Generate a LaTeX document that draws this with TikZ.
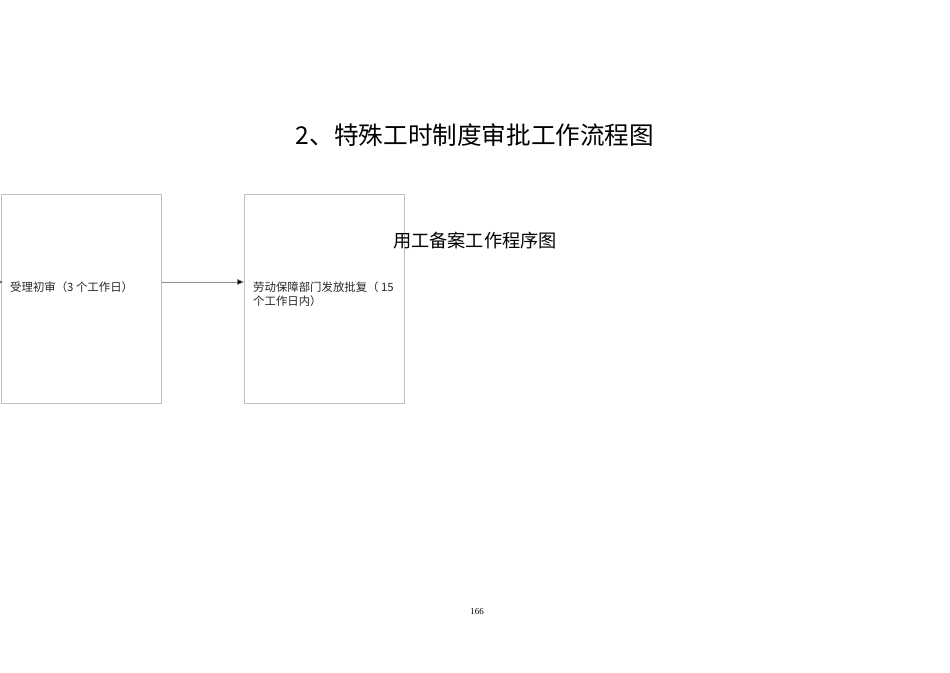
\documentclass[tikz,border=0pt]{standalone}
\usepackage{fontspec}
\setmainfont{Liberation Serif}
\newfontfamily\cjk{Noto Sans CJK SC}
\usetikzlibrary{arrows.meta}
\tikzset{
  box/.style={draw=black!25, line width=0.8pt, minimum width=160pt, minimum height=209pt, anchor=north west, inner sep=0pt},
  boxtext/.style={anchor=base west, inner sep=0pt, align=left, font=\cjk\fontsize{11.4}{14}\selectfont, text=black!85},
  conn/.style={draw=black!45, line width=0.6pt, -{Triangle[length=7pt,width=6pt,fill=black]}}
}
\begin{document}
\begin{tikzpicture}[x=1pt,y=-1pt]
\useasboundingbox (0,0) rectangle (950,672);
\node[anchor=base, inner sep=0pt, font=\cjk\fontsize{24.6}{27}\selectfont] (title) at (475,144) {2、特殊工时制度审批工作流程图};
\node[box] (b1) at (1,194) {};
\node[box] (b2) at (244,194) {};
\node[anchor=base, inner sep=0pt, font=\cjk\fontsize{18.2}{20}\selectfont] (sub) at (475,247) {用工备案工作程序图};
\node[boxtext] (t1) at (10,291) {受理初审（3 个工作日）};
\node[boxtext] (t2) at (253,305) {劳动保障部门发放批复（ 15\\个工作日内）};
\coordinate (in) at (-12,282);
\draw[conn] (b1.east |- in) -- (b2.west |- in);
\draw[conn] (in) -- ([xshift=2pt]b1.west |- in);
\node[anchor=base, inner sep=0pt, font=\fontsize{9}{10}\selectfont] (pg) at (477,614) {166};
\end{tikzpicture}
\end{document}
